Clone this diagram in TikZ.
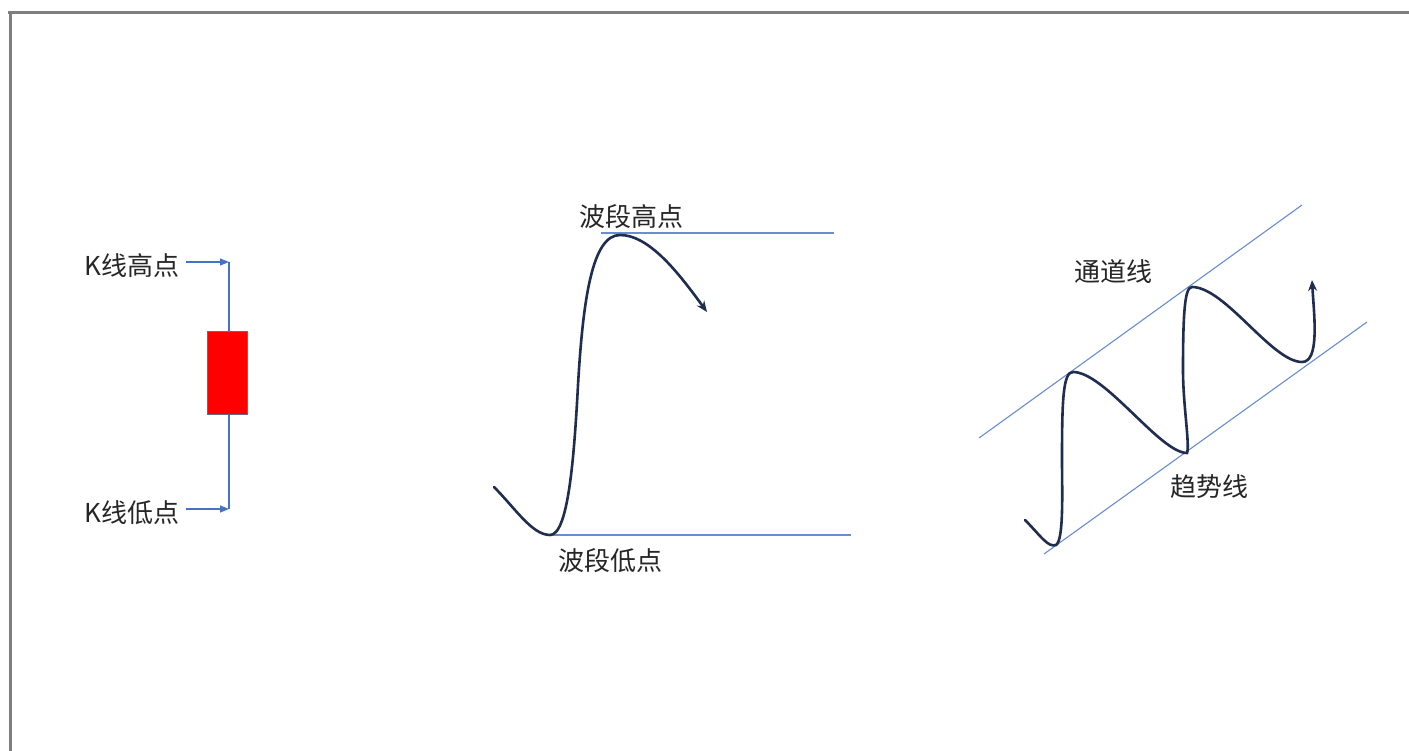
\documentclass[tikz,border=0pt]{standalone}
\usepackage{fontspec}
\newfontfamily\cjk{Noto Sans CJK SC}
\usetikzlibrary{arrows.meta}
\definecolor{frame}{HTML}{7F7F7F}
\definecolor{lblue}{HTML}{4472C4}
\definecolor{navy}{HTML}{1F2D4F}
\definecolor{kred}{HTML}{FF0000}
\tikzset{
  lbl/.style={font=\cjk\fontsize{26}{30}\selectfont, text=black!85, inner sep=0pt},
  thinline/.style={draw=lblue!80, line width=1.1pt},
  kline/.style={draw=lblue, line width=2pt},
  karrow/.style={draw=lblue, line width=1.2pt, -{Triangle[length=9pt,width=7pt]}},
  wave/.style={draw=navy, line width=2.6pt, line cap=round, -{Stealth[length=11pt,width=9pt]}},
}
\begin{document}
\begin{tikzpicture}[x=1pt,y=-1pt]
\useasboundingbox (0,0) rectangle (1409,751);
\fill[white] (0,0) rectangle (1409,751);
% frame
\draw[frame, line width=3pt] (8,13) -- (1409,13);
\draw[frame, line width=3pt] (10,13) -- (10,751);

% K line
\coordinate (khi) at (229,262);
\coordinate (klo) at (229,509);
\draw[kline] (khi) -- (klo);
\node[draw=navy!70, line width=0.8pt, fill=kred, minimum width=40pt, minimum height=83pt, inner sep=0pt] (body) at (227,372.5) {};
\node[lbl] (khitxt) at (132,266) {K线高点};
\node[lbl] (klotxt) at (132,513) {K线低点};
\coordinate (ka) at (186,262);
\coordinate (kb) at (186,509);
\draw[karrow] (ka) -- (khi);
\draw[karrow] (kb) -- (klo);

% wave segment
\coordinate (hiL) at (601,233);
\coordinate (hiR) at (834,233);
\coordinate (loL) at (548,535);
\coordinate (loR) at (851,535);
\draw[thinline] (hiL) -- (hiR);
\draw[thinline] (loL) -- (loR);
\node[lbl] (hitxt) at (631,217) {波段高点};
\node[lbl] (lotxt) at (610,561) {波段低点};
\coordinate (w0) at (494,487);
\coordinate (w1) at (550,535);
\coordinate (w2) at (578,385);
\coordinate (w3) at (620,235);
\coordinate (w4) at (707,312);
\draw[wave] (w0) .. controls (515,508) and (532,535) .. (w1)
  .. controls (568,535) and (574,460) .. (w2)
  .. controls (583,300) and (592,235) .. (w3)
  .. controls (650,235) and (680,275) .. (w4);

% channel
\coordinate (cu1) at (979,438);
\coordinate (cu2) at (1302,205);
\coordinate (cl1) at (1044,554);
\coordinate (cl2) at (1367,322);
\draw[thinline] (cu1) -- (cu2);
\draw[thinline] (cl1) -- (cl2);
\node[lbl] (chtxt) at (1113,272) {通道线};
\node[lbl] (trtxt) at (1209,487) {趋势线};
\coordinate (r0) at (1025,520);
\coordinate (r1) at (1056,545);
\coordinate (r2) at (1062,460);
\coordinate (r3) at (1073,372);
\coordinate (r4) at (1187,453);
\coordinate (r5) at (1183,370);
\coordinate (r6) at (1192,287);
\coordinate (r7) at (1302,362);
\coordinate (r8) at (1312,280);
\draw[wave] (r0) .. controls (1040,535) and (1048,548) .. (r1)
  .. controls (1064,540) and (1062,490) .. (r2)
  .. controls (1062,400) and (1063,372) .. (r3)
  .. controls (1105,372) and (1160,453) .. (r4)
  .. controls (1190,445) and (1183,405) .. (r5)
  .. controls (1183,310) and (1185,287) .. (r6)
  .. controls (1225,287) and (1272,362) .. (r7)
  .. controls (1320,362) and (1314,315) .. (r8);
\end{tikzpicture}
\end{document}
